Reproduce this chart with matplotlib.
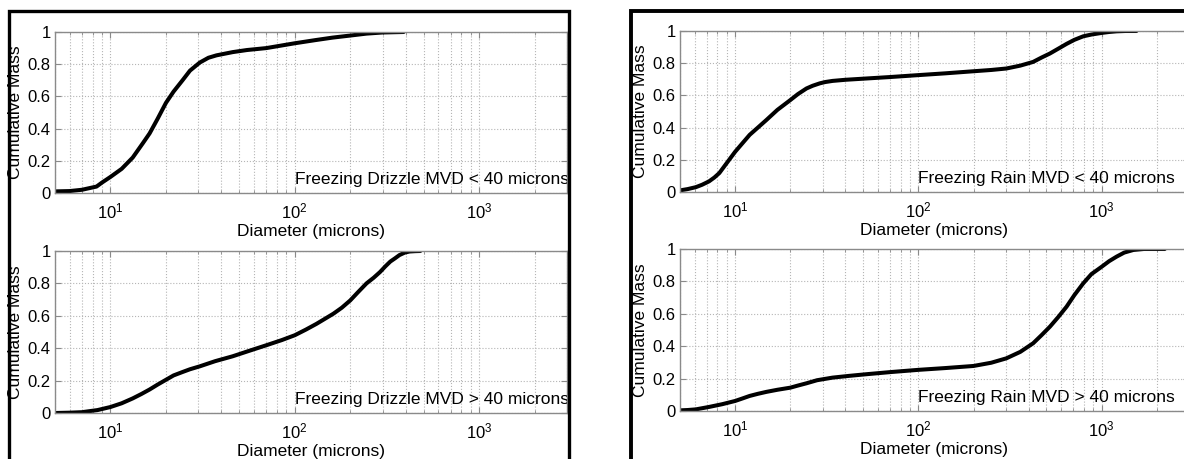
import matplotlib
matplotlib.use("Agg")
import matplotlib.pyplot as plt
from matplotlib.patches import Rectangle
from matplotlib.ticker import LogLocator, NullFormatter

plt.rcParams['font.family'] = ['Liberation Sans', 'DejaVu Sans']
plt.rcParams['mathtext.default'] = 'regular'

# values (diameter in microns, cumulative mass fraction)
fzdz_small_d = [5, 6, 7, 8.4, 9, 10, 11.5, 13.2, 15, 16.3, 18, 20, 22, 24.6, 27, 30.5, 34, 37.6,
                46, 55, 70, 100, 130, 160, 200, 245, 300, 390]
fzdz_small_m = [0.01, 0.012, 0.02, 0.04, 0.065, 0.10, 0.15, 0.22, 0.31, 0.37, 0.46, 0.56, 0.63, 0.70,
                0.76, 0.81, 0.84, 0.855, 0.875, 0.888, 0.90, 0.93, 0.95, 0.965, 0.978, 0.99, 0.997, 1.0]

fzdz_large_d = [5, 6, 7, 8.5, 10, 11.5, 13.2, 14.7, 16.3, 18, 20, 22, 24.6, 27, 30.5, 37, 46, 57, 70,
                85, 100, 115, 131, 145, 162, 180, 200, 220, 245, 268, 290, 310, 330, 350, 370, 395,
                420, 450, 480]
fzdz_large_m = [0.0, 0.002, 0.005, 0.018, 0.037, 0.06, 0.09, 0.117, 0.145, 0.175, 0.205, 0.232, 0.253,
                0.27, 0.288, 0.32, 0.35, 0.385, 0.418, 0.45, 0.48, 0.515, 0.55, 0.58, 0.613, 0.65,
                0.695, 0.745, 0.80, 0.835, 0.87, 0.905, 0.935, 0.955, 0.975, 0.99, 0.997, 0.999, 1.0]

fzra_small_d = [5, 5.5, 6.1, 6.6, 7.2, 7.7, 8.2, 9, 10, 11, 12, 13.3, 14.8, 17, 20, 22, 24.5, 26.5,
                29, 31, 34, 40, 52, 70, 100, 140, 200, 250, 302, 360, 423, 470, 522, 580, 644, 710,
                794, 880, 1000, 1100, 1208, 1350, 1550]
fzra_small_m = [0.01, 0.018, 0.03, 0.045, 0.066, 0.09, 0.118, 0.18, 0.25, 0.305, 0.355, 0.40, 0.447,
                0.51, 0.571, 0.608, 0.643, 0.66, 0.675, 0.683, 0.69, 0.697, 0.705, 0.714, 0.726,
                0.737, 0.75, 0.758, 0.767, 0.785, 0.808, 0.835, 0.86, 0.89, 0.92, 0.945, 0.967,
                0.978, 0.988, 0.994, 0.998, 1.0, 1.0]

fzra_large_d = [5, 5.5, 6.1, 7.2, 8.5, 10, 11, 12, 13.3, 14.8, 17, 20, 22, 24.5, 28, 34, 42, 52, 70,
                100, 140, 200, 250, 302, 360, 423, 470, 522, 580, 644, 710, 794, 880, 1000, 1100,
                1208, 1330, 1490, 1700, 2213]
fzra_large_m = [0.004, 0.006, 0.01, 0.025, 0.042, 0.062, 0.078, 0.093, 0.106, 0.118, 0.131, 0.144,
                0.157, 0.171, 0.19, 0.206, 0.217, 0.227, 0.24, 0.254, 0.265, 0.278, 0.298, 0.325,
                0.365, 0.418, 0.468, 0.52, 0.58, 0.644, 0.715, 0.788, 0.845, 0.89, 0.925, 0.953,
                0.978, 0.994, 1.0, 1.0]

panel_labels = ["Freezing Drizzle MVD < 40 microns", "Freezing Drizzle MVD > 40 microns",
                "Freezing Rain MVD < 40 microns", "Freezing Rain MVD > 40 microns"]

W, H = 1184, 459
fig = plt.figure(figsize=(W / 100, H / 100), dpi=100)


def px_axes(left, right, top, bottom):
    return fig.add_axes([left / W, 1 - bottom / H, (right - left) / W, (bottom - top) / H])


def style_panel(ax, d, m, label):
    ax.plot(d, m, color='black', lw=2.9, solid_capstyle='round', solid_joinstyle='round')
    ax.set_xscale('log')
    ax.set_xlim(5, 3000)
    ax.set_ylim(0, 1)
    ax.set_yticks([0, 0.2, 0.4, 0.6, 0.8, 1])
    ax.set_yticklabels(['0', '0.2', '0.4', '0.6', '0.8', '1'])
    ax.xaxis.set_major_locator(LogLocator(base=10))
    ax.xaxis.set_minor_locator(LogLocator(base=10, subs=range(2, 10)))
    ax.xaxis.set_minor_formatter(NullFormatter())
    ax.grid(True, which='major', axis='both', ls=':', color='#b5b5b5', lw=0.8)
    ax.grid(True, which='minor', axis='x', ls=':', color='#b5b5b5', lw=0.8)
    for sp in ax.spines.values():
        sp.set_color('#8a8a8a')
        sp.set_linewidth(1.0)
    ax.tick_params(which='both', direction='in', top=True, right=True, color='#8a8a8a')
    ax.tick_params(which='major', length=4, labelsize=12)
    ax.tick_params(which='minor', length=2)
    ax.tick_params(axis='y', pad=3)
    ax.tick_params(axis='x', pad=6)
    ax.set_xlabel('Diameter (microns)', fontsize=12.5, labelpad=2)
    ax.set_ylabel('Cumulative Mass', fontsize=12.5)
    ax.yaxis.set_label_coords(-0.063, 0.5)
    ax.text(100, 0.085, label, fontsize=12.5, ha='left', va='center', clip_on=True)


ax1 = px_axes(55, 567, 32, 193)
ax2 = px_axes(55, 567, 251, 413)
ax3 = px_axes(680, 1189, 31, 192)
ax4 = px_axes(680, 1189, 249, 411)

style_panel(ax1, fzdz_small_d, fzdz_small_m, panel_labels[0])
style_panel(ax2, fzdz_large_d, fzdz_large_m, panel_labels[1])
style_panel(ax3, fzra_small_d, fzra_small_m, panel_labels[2])
style_panel(ax4, fzra_large_d, fzra_large_m, panel_labels[3])

# black borders of the two pasted figures
fig.add_artist(Rectangle((8.5 / W, -0.1), (569 - 8.5) / W, 1.1 - 11 / H, transform=fig.transFigure,
                         fill=False, ec='black', lw=2.4, zorder=20))
fig.add_artist(Rectangle((631 / W, -0.1), 0.6, 1.1 - 11 / H, transform=fig.transFigure,
                         fill=False, ec='black', lw=2.8, zorder=20))

fig.savefig('out.png', dpi=100)
